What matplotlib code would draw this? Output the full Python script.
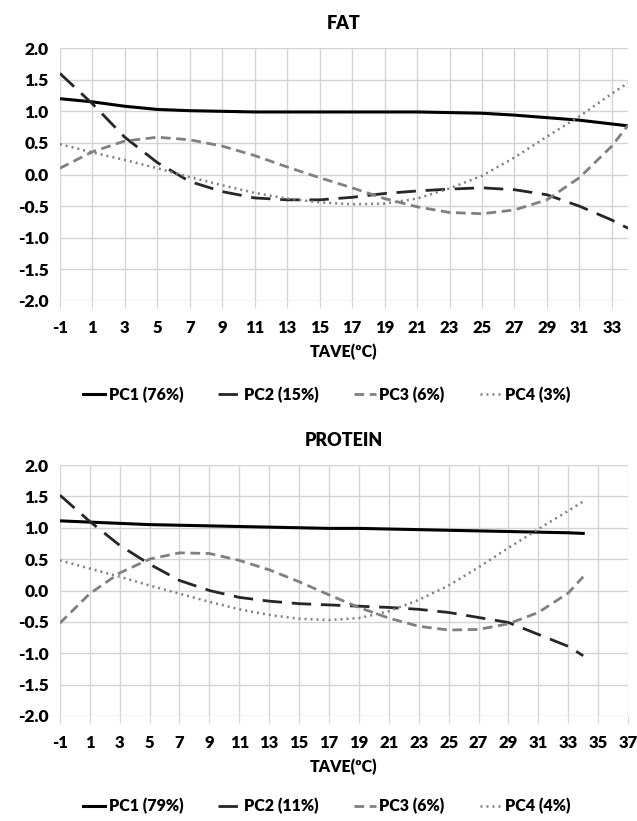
import matplotlib.pyplot as plt
import numpy as np

plt.rcParams['font.family'] = ['Lato', 'DejaVu Sans']
plt.rcParams['font.weight'] = 'bold'
plt.rcParams['axes.unicode_minus'] = False

# temperature points (TAVE, ºC)
tave = [-1, 1, 3, 5, 7, 9, 11, 13, 15, 17, 19, 21, 23, 25, 27, 29, 31, 33, 34]

# FAT
fat_pc1 = [1.20, 1.15, 1.08, 1.03, 1.01, 1.00, 0.99, 0.99, 0.99, 0.99, 0.99, 0.99, 0.98, 0.97, 0.94, 0.90, 0.86, 0.80, 0.77]
fat_pc2 = [1.60, 1.12, 0.59, 0.19, -0.11, -0.27, -0.37, -0.40, -0.40, -0.36, -0.30, -0.26, -0.23, -0.21, -0.24, -0.32, -0.50, -0.72, -0.85]
fat_pc3 = [0.10, 0.36, 0.53, 0.59, 0.55, 0.45, 0.30, 0.12, -0.05, -0.21, -0.38, -0.51, -0.60, -0.62, -0.56, -0.40, -0.05, 0.45, 0.78]
fat_pc4 = [0.48, 0.35, 0.23, 0.10, -0.04, -0.17, -0.29, -0.38, -0.44, -0.47, -0.46, -0.38, -0.22, -0.02, 0.27, 0.60, 0.92, 1.28, 1.45]
fat_labels = ['PC1 (76%)', 'PC2 (15%)', 'PC3 (6%)', 'PC4 (3%)']

# PROTEIN
prot_pc1 = [1.11, 1.09, 1.07, 1.05, 1.04, 1.03, 1.02, 1.01, 1.00, 0.99, 0.99, 0.98, 0.97, 0.96, 0.95, 0.94, 0.93, 0.92, 0.91]
prot_pc2 = [1.52, 1.10, 0.72, 0.42, 0.16, 0.00, -0.11, -0.17, -0.21, -0.23, -0.25, -0.27, -0.30, -0.35, -0.43, -0.51, -0.70, -0.89, -1.04]
prot_pc3 = [-0.52, -0.05, 0.28, 0.50, 0.60, 0.59, 0.48, 0.33, 0.14, -0.07, -0.27, -0.44, -0.57, -0.63, -0.62, -0.53, -0.35, -0.04, 0.22]
prot_pc4 = [0.48, 0.35, 0.22, 0.08, -0.05, -0.18, -0.30, -0.39, -0.45, -0.47, -0.44, -0.33, -0.15, 0.08, 0.37, 0.68, 0.98, 1.27, 1.42]
prot_labels = ['PC1 (79%)', 'PC2 (11%)', 'PC3 (6%)', 'PC4 (4%)']

styles = [
    dict(color='black', lw=2.2, ls='-'),
    dict(color='#262626', lw=2.0, ls=(0, (7, 3.5))),
    dict(color='#808080', lw=2.0, ls=(0, (3.5, 2))),
    dict(color='#808080', lw=1.8, ls=(0, (0.8, 1.6))),
]


def draw_panel(ax, title, series, labels, xmax, legend_y):
    for ys, lab, st in zip(series, labels, styles):
        ax.plot(tave, ys, label=lab, **st)
    ax.set_xlim(-1, xmax)
    ax.set_ylim(-2, 2)
    ax.set_xticks(np.arange(-1, xmax + 1, 2))
    yt = np.arange(-2, 2.01, 0.5)
    ax.set_yticks(yt)
    ax.set_yticklabels([f'{v:.1f}' for v in yt])
    ax.grid(True, color='#d4d4d4', lw=1)
    ax.set_axisbelow(True)
    for s in ax.spines.values():
        s.set_visible(False)
    ax.tick_params(axis='y', length=0, labelsize=12.5, pad=8)
    ax.tick_params(axis='x', length=5, color='#d4d4d4', labelsize=12, pad=9)
    for t in ax.get_xticklabels() + ax.get_yticklabels():
        t.set_fontweight('heavy')
    ax.set_title(title, fontsize=13, fontweight='heavy', pad=14)
    ax.set_xlabel('TAVE(ºC)', fontsize=11.5, fontweight='heavy', labelpad=5)
    leg = ax.legend(loc='center', bbox_to_anchor=(0.47, legend_y), ncol=4, frameon=False,
                    fontsize=11.5, handlelength=1.4, handletextpad=0.2, columnspacing=2.2)
    for t in leg.get_texts():
        t.set_fontweight('heavy')


fig = plt.figure(figsize=(6.37, 8.21), dpi=100)
ax1 = fig.add_axes([0.094, 0.6334, 0.892, 0.308])
ax2 = fig.add_axes([0.094, 0.1279, 0.892, 0.3057])

draw_panel(ax1, 'FAT', [fat_pc1, fat_pc2, fat_pc3, fat_pc4], fat_labels, 34, -0.37)
draw_panel(ax2, 'PROTEIN', [prot_pc1, prot_pc2, prot_pc3, prot_pc4], prot_labels, 37, -0.36)

fig.savefig('out.png', dpi=100)
